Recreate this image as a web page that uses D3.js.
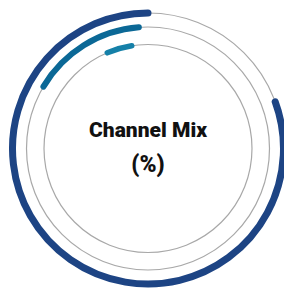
<!DOCTYPE html>
<html>
<head>
<meta charset="utf-8">
<script src="https://cdn.jsdelivr.net/npm/d3@7/dist/d3.min.js"></script>
<style>
  html, body { margin: 0; padding: 0; background: #fff; }
  svg { display: block; }
</style>
</head>
<body>
<div id="chart"></div>
<script>
// Channel mix rings, outer to inner (percent of a full turn, counterclockwise from 12 o'clock)
var channels     = ['Channel 1', 'Channel 2', 'Channel 3'];
var shareValues  = [80.6, 15.3, 3.9];
var startOffsets = [0.0, 1.2, 2.5];
var ringColors   = ['#1d4484', '#0b6896', '#1580a8'];
var titleLines   = ['Channel Mix', '(%)'];

var width = 284, height = 290;
var cx = 148, cy = 148.5;
var radii   = [135.5, 121.5, 104];
var strokes = [7, 6, 5.5];

var svg = d3.select('#chart').append('svg')
    .attr('width', width)
    .attr('height', height);

var g = svg.append('g')
    .attr('transform', 'translate(' + cx + ',' + cy + ')');

// percent -> angle, running counterclockwise from the top
var angle = d3.scaleLinear().domain([0, 100]).range([0, -2 * Math.PI]);

var rings = channels.map(function(c, i) {
    return { name: c, value: shareValues[i], offset: startOffsets[i],
             r: radii[i], w: strokes[i], color: ringColors[i] };
});

// gray tracks
g.selectAll('circle.track')
    .data(rings)
    .enter().append('circle')
    .attr('class', 'track')
    .attr('r', function(d) { return d.r; })
    .attr('fill', 'none')
    .attr('stroke', '#a8a8a8')
    .attr('stroke-width', 1.2);

// open arc path so the round caps show at both ends
function barPath(d) {
    var a0 = angle(d.offset) - Math.PI / 2,
        a1 = angle(d.offset + d.value) - Math.PI / 2;
    var p = d3.path();
    p.arc(0, 0, d.r, a0, a1, true);
    return p.toString();
}

g.selectAll('path.bar')
    .data(rings)
    .enter().append('path')
    .attr('class', 'bar')
    .attr('d', barPath)
    .attr('fill', 'none')
    .attr('stroke', function(d) { return d.color; })
    .attr('stroke-width', function(d) { return d.w; })
    .attr('stroke-linecap', 'round');

// centre title
g.selectAll('text.title')
    .data(titleLines)
    .enter().append('text')
    .attr('class', 'title')
    .attr('x', 0)
    .attr('y', function(d, i) { return -12 + i * 35; })
    .attr('text-anchor', 'middle')
    .attr('font-family', 'Roboto, sans-serif')
    .attr('font-weight', 900)
    .attr('font-size', function(d, i) { return i ? 23 : 21; })
    .attr('fill', '#111')
    .text(function(d) { return d; });
</script>
</body>
</html>
